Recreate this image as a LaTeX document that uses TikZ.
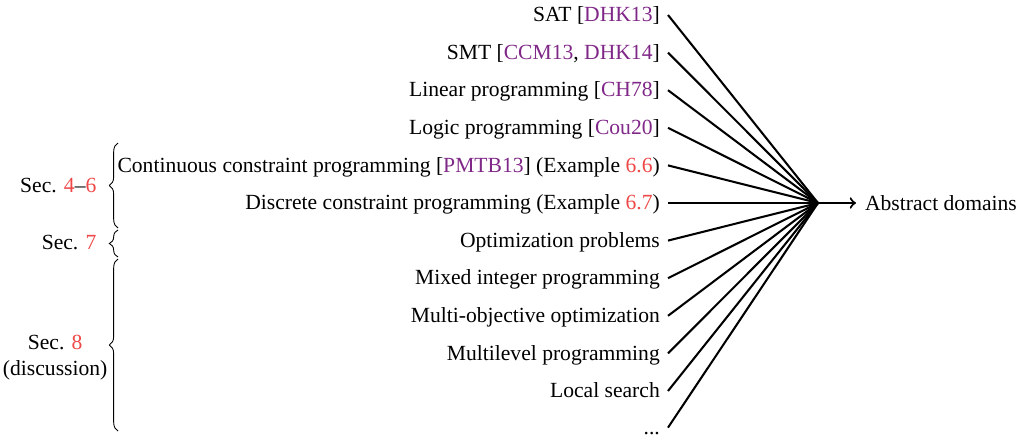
\documentclass[tikz,border=0pt]{standalone}
\usepackage{fontspec}
\setmainfont{Liberation Serif}
\usetikzlibrary{decorations.pathreplacing}

\definecolor{citecol}{RGB}{128,40,136}
\definecolor{refcol}{RGB}{238,72,72}
\newcommand{\cit}[1]{\textcolor{citecol}{#1}}
\newcommand{\secref}[1]{\textcolor{refcol}{#1}}

\tikzset{
  src/.style={anchor=east, inner xsep=3.6pt, inner ysep=0pt, text height=1.9ex, text depth=0.55ex},
  seclabel/.style={anchor=east, align=center},
  secbrace/.style={decorate, decoration={brace, amplitude=4pt}},
}

\begin{document}
\begin{tikzpicture}[x=0.463pt, y=-0.463pt]
        \useasboundingbox (0,0) rectangle (1026,435);

        % problem classes, right-aligned
        \node[src] (sat)   at (668,  15.0) {SAT [\cit{DHK13}]};
        \node[src] (smt)   at (668,  52.6) {SMT [\cit{CCM13}, \cit{DHK14}]};
        \node[src] (lin)   at (668,  90.2) {Linear programming [\cit{CH78}]};
        \node[src] (logic) at (668, 127.8) {Logic programming [\cit{Cou20}]};
        \node[src] (ccp)   at (668, 165.4) {Continuous constraint programming [\cit{PMTB13}] (Example \secref{6.6})};
        \node[src] (dcp)   at (668, 203.0) {Discrete constraint programming (Example \secref{6.7})};
        \node[src] (opt)   at (668, 240.6) {Optimization problems};
        \node[src] (mip)   at (668, 278.2) {Mixed integer programming};
        \node[src] (moo)   at (668, 315.8) {Multi-objective optimization};
        \node[src] (mlp)   at (668, 353.4) {Multilevel programming};
        \node[src] (ls)    at (668, 391.0) {Local search};
        \node[src] (more)  at (668, 427.6) {...};

        % everything meets in one point
        \coordinate (hub) at (818, 203);
        \foreach \n in {sat,smt,lin,logic,ccp,dcp,opt,mip,moo,mlp,ls,more}
            \draw[line width=0.95pt] (\n.east) -- (hub);

        \node[anchor=west, inner xsep=4pt] (dom) at (856, 203) {Abstract domains};
        \draw[line width=0.95pt,->] (hub) -- (dom);

        % section braces
        \draw[secbrace] (118, 228) -- (118, 143);
        \draw[secbrace] (118, 257) -- (118, 230);
        \draw[secbrace] (118, 431) -- (118, 259);

        \node[seclabel] (s46) at (104, 186) {Sec. \secref{4}--\secref{6}};
        \node[seclabel] (s7)  at (104, 243) {Sec. \secref{7}};
        \node[seclabel] (s8)  at (115, 358) {Sec. \secref{8}\\(discussion)};
    \end{tikzpicture}
\end{document}
